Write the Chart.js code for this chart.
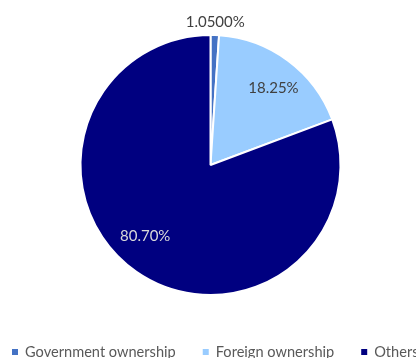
<!DOCTYPE html>
<html>
<head>
<meta charset="utf-8">
<script src="https://cdn.jsdelivr.net/npm/chart.js@4.4.0/dist/chart.umd.min.js"></script>
<style>
  html, body { margin: 0; padding: 0; background: #fff; }
  #wrap { width: 416px; height: 358px; position: relative; }
</style>
</head>
<body>
<div id="wrap"><canvas id="pie"></canvas></div>
<script>
/* ── DATA ── */
var labels = ['Government ownership', 'Foreign ownership', 'Others'];
var shares = [1.05, 18.25, 80.70];
var valueText = ['1.0500%', '18.25%', '80.70%'];

var sliceColors = ['#4472C4', '#99CCFF', '#000080'];
var labelColors = ['#404040', '#404040', '#D9D9D9'];
var FONT = 'Lato, "Liberation Sans", sans-serif';

/* ── SLICE LABELS ── */
// radial position as a fraction of the radius, plus a small nudge in px
var labelPlace = [
  { r: 1.11, dx: 0,  dy: 1 },
  { r: 0.76, dx: 4,  dy: 2 },
  { r: 0.76, dx: -9, dy: -10 }
];

var sliceLabels = {
  id: 'sliceLabels',
  afterDatasetsDraw: function(chart) {
    var ctx = chart.ctx;
    var arcs = chart.getDatasetMeta(0).data;
    ctx.save();
    ctx.font = '15px ' + FONT;
    ctx.textAlign = 'center';
    ctx.textBaseline = 'middle';
    for (var i = 0; i < arcs.length; i++) {
      var a = arcs[i];
      var mid = (a.startAngle + a.endAngle) / 2;
      var p = labelPlace[i];
      var x = a.x + Math.cos(mid) * a.outerRadius * p.r + p.dx;
      var y = a.y + Math.sin(mid) * a.outerRadius * p.r + p.dy;
      ctx.fillStyle = labelColors[i];
      ctx.fillText(valueText[i], x, y);
    }
    ctx.restore();
  }
};

/* ── LEGEND (bottom row) ── */
var bottomLegend = {
  id: 'bottomLegend',
  afterDraw: function(chart) {
    var ctx = chart.ctx;
    ctx.save();
    ctx.font = '14.6px ' + FONT;
    ctx.textBaseline = 'middle';
    var x = 12, y = 352;
    for (var i = 0; i < labels.length; i++) {
      ctx.fillStyle = sliceColors[i];
      ctx.fillRect(x, y - 3, 6, 6);
      ctx.fillStyle = '#595959';
      ctx.fillText(labels[i], x + 13, y);
      x += 13 + ctx.measureText(labels[i]).width + 27;
    }
    ctx.restore();
  }
};

new Chart(document.getElementById('pie'), {
  type: 'pie',
  data: {
    labels: labels,
    datasets: [{
      data: shares,
      backgroundColor: sliceColors,
      borderColor: '#ffffff',
      borderWidth: 2,
      hoverOffset: 0
    }]
  },
  options: {
    responsive: true,
    maintainAspectRatio: false,
    animation: false,
    radius: 130,
    layout: { padding: { left: 5, right: 0, top: 0, bottom: 28 } },
    plugins: {
      legend: { display: false },
      tooltip: { enabled: false }
    }
  },
  plugins: [sliceLabels, bottomLegend]
});
</script>
</body>
</html>
